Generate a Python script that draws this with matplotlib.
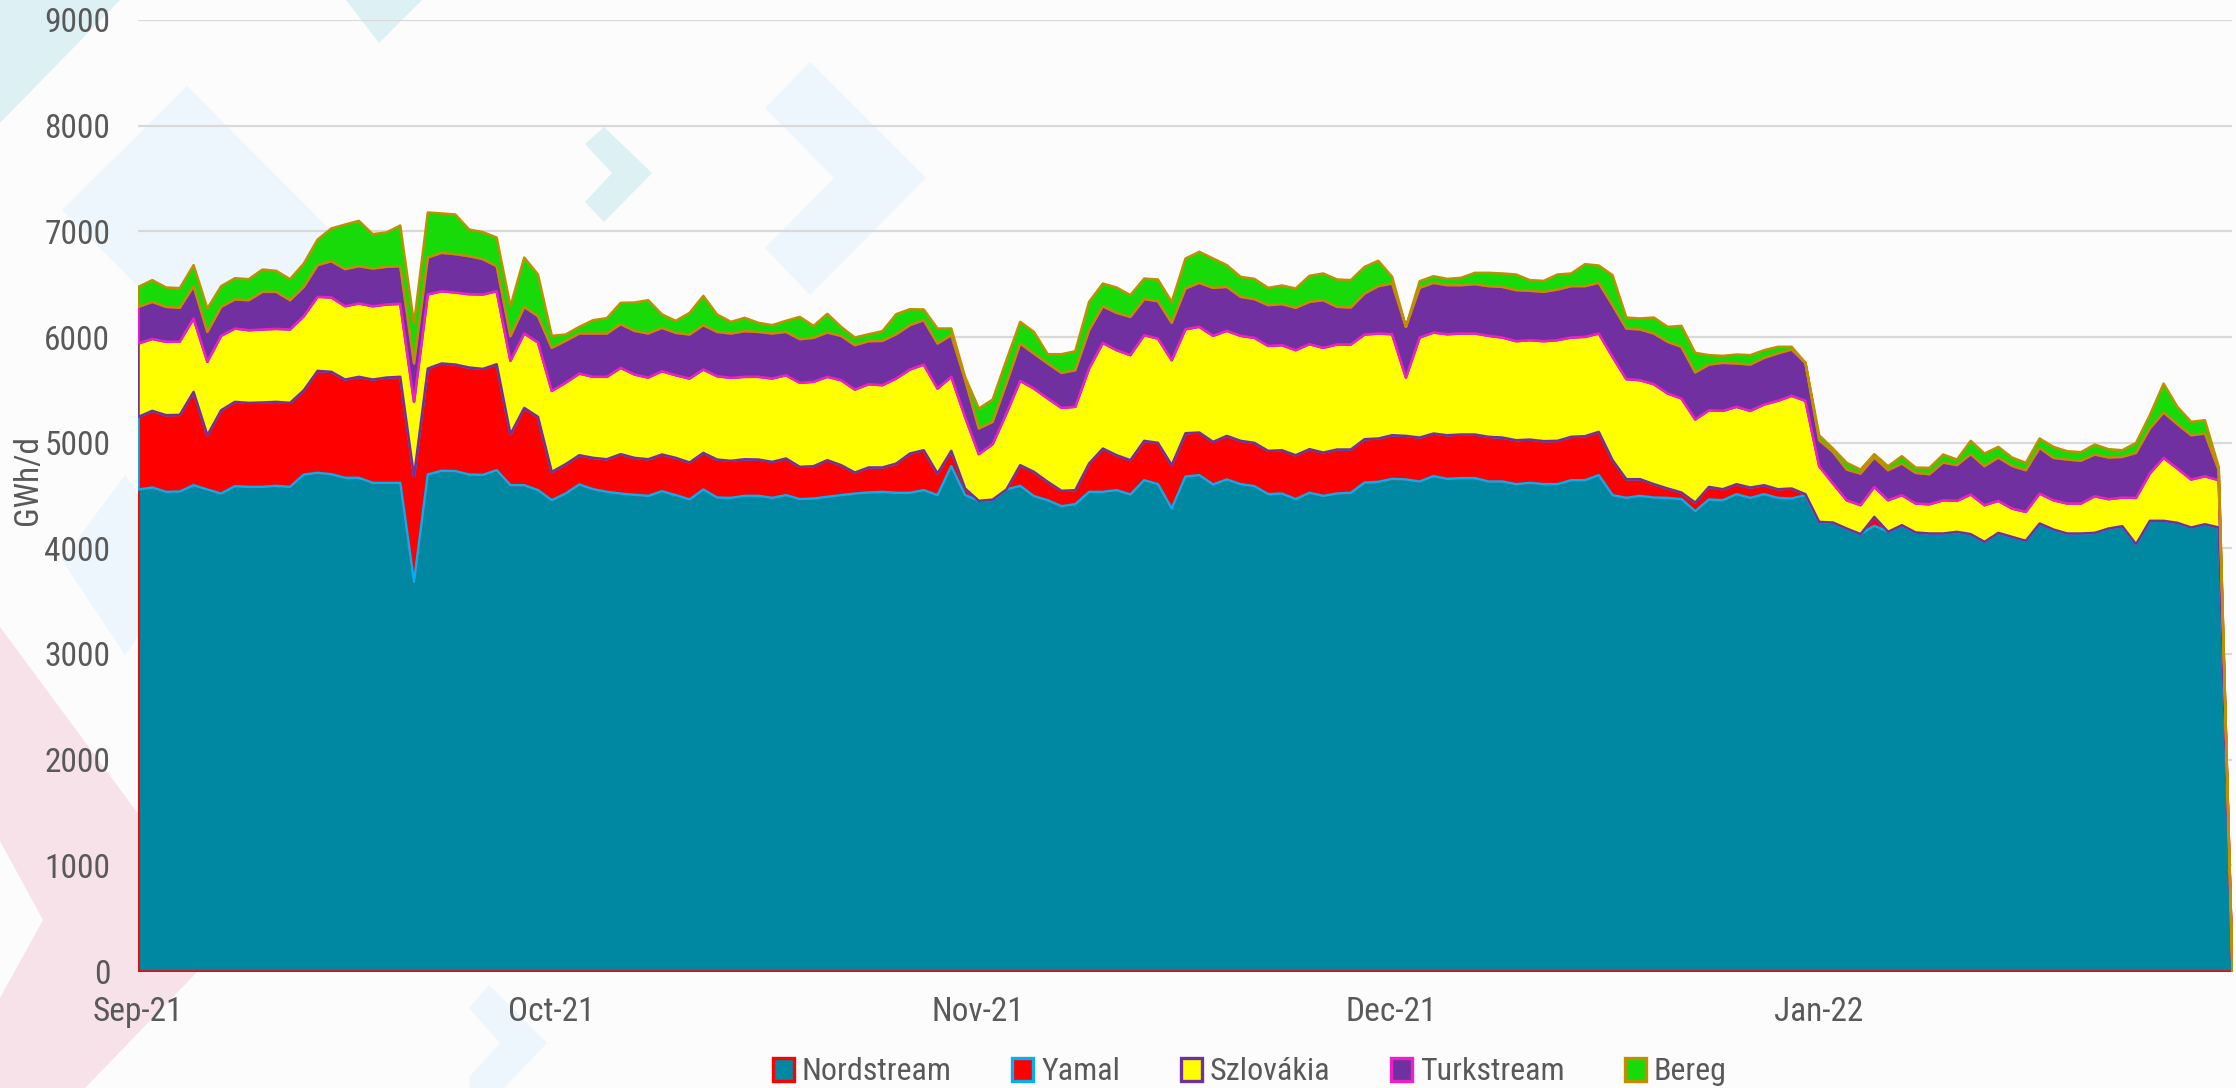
import numpy as np
import pandas as pd
import matplotlib
matplotlib.use("Agg")
import matplotlib.pyplot as plt
import matplotlib.dates as mdates
from matplotlib.patches import Polygon
from matplotlib import font_manager as fm

_names = {f.name for f in fm.fontManager.ttflist}
if 'Liberation Sans Narrow' in _names:
    FAMILY, FS, LFS = ['Liberation Sans Narrow', 'DejaVu Sans'], 12, 12
elif 'Roboto Condensed' in _names:
    FAMILY, FS, LFS = ['Roboto Condensed', 'DejaVu Sans'], 12, 11.5
else:
    FAMILY, FS, LFS = ['Liberation Sans', 'DejaVu Sans'], 10.5, 10.5
plt.rcParams['font.family'] = FAMILY

dates = pd.date_range('2021-09-01', '2022-01-31', freq='D')

nordstream = [
    4561, 4580, 4539, 4542, 4602, 4561, 4523, 4593, 4586, 4586,
    4596, 4586, 4703, 4719, 4706, 4672, 4672, 4624, 4624, 4624,
    3687, 4703, 4738, 4735, 4703, 4700, 4744, 4602, 4602, 4555,
    4460, 4523, 4609, 4564, 4539, 4523, 4511, 4501, 4545, 4508,
    4467, 4561, 4485, 4482, 4501, 4501, 4482, 4508, 4470, 4476,
    4492, 4508, 4523, 4533, 4539, 4530, 4530, 4555, 4508, 4782,
    4508, 4454, 4466, 4561, 4596, 4498, 4460, 4403, 4422, 4539,
    4539, 4555, 4514, 4649, 4612, 4381, 4684, 4697, 4609, 4656,
    4612, 4593, 4517, 4523, 4470, 4530, 4501, 4523, 4530, 4627,
    4634, 4662, 4656, 4637, 4688, 4662, 4669, 4669, 4637, 4637,
    4612, 4624, 4612, 4612, 4649, 4649, 4697, 4508, 4482, 4501,
    4485, 4482, 4470, 4356, 4467, 4460, 4517, 4482, 4517, 4482,
    4476, 4508, 4255, 4249, 4192, 4139, 4218, 4161, 4224, 4155,
    4145, 4145, 4161, 4139, 4066, 4151, 4113, 4076, 4240, 4183,
    4145, 4145, 4151, 4192, 4214, 4044, 4265, 4265, 4246, 4202,
    4233, 4202, 0]

yamal = [
    688, 726, 726, 726, 884, 514, 789, 798, 795, 799,
    795, 795, 798, 965, 969, 930, 956, 978, 997, 1004,
    1000, 1003, 1016, 1009, 1013, 1003, 1003, 483, 732, 694,
    268, 278, 277, 297, 309, 373, 350, 347, 348, 353,
    350, 347, 360, 351, 347, 344, 341, 347, 306, 306,
    347, 284, 199, 237, 231, 277, 372, 378, 205, 145,
    63, 0, 0, 0, 196, 230, 174, 146, 133, 268,
    410, 331, 325, 373, 391, 411, 410, 404, 403, 413,
    410, 410, 410, 410, 416, 413, 410, 417, 410, 411,
    410, 413, 413, 416, 403, 413, 413, 413, 423, 416,
    416, 410, 407, 410, 411, 417, 410, 331, 177, 158,
    127, 89, 63, 82, 119, 104, 95, 98, 85, 82,
    95, 9, 0, 0, 0, 0, 84, 0, 0, 0,
    0, 0, 0, 0, 0, 0, 0, 0, 0, 0,
    0, 0, 0, 0, 0, 0, 0, 0, 0, 0,
    0, 0, 0]

szlovakia = [
    694, 681, 694, 694, 694, 695, 704, 694, 688, 691,
    691, 695, 701, 701, 704, 694, 694, 694, 691, 691,
    704, 701, 684, 682, 694, 704, 691, 694, 704, 704,
    767, 770, 773, 767, 780, 817, 789, 773, 788, 782,
    795, 789, 789, 785, 780, 783, 789, 788, 795, 799,
    789, 804, 786, 788, 779, 805, 795, 811, 804, 701,
    678, 442, 524, 720, 798, 789, 789, 785, 789, 899,
    1000, 994, 994, 1000, 987, 993, 985, 1000, 1004, 994,
    994, 994, 994, 994, 994, 994, 991, 994, 994, 990,
    994, 956, 552, 947, 956, 956, 956, 956, 956, 947,
    937, 941, 946, 953, 940, 940, 931, 978, 947, 937,
    946, 899, 890, 786, 726, 742, 732, 726, 764, 837,
    877, 884, 527, 369, 268, 274, 284, 299, 284, 274,
    277, 315, 293, 375, 347, 303, 268, 274, 283, 277,
    284, 284, 347, 278, 271, 438, 448, 596, 514, 454,
    454, 448, 0]

turkstream = [
    347, 350, 331, 319, 306, 283, 274, 275, 284, 356,
    350, 277, 277, 300, 343, 351, 353, 357, 357, 356,
    363, 350, 363, 363, 360, 334, 237, 233, 252, 249,
    407, 397, 379, 410, 410, 413, 413, 417, 410, 401,
    416, 420, 419, 420, 432, 425, 426, 410, 413, 416,
    419, 420, 419, 407, 419, 419, 420, 420, 426, 394,
    351, 243, 212, 284, 353, 331, 331, 331, 346, 363,
    347, 353, 362, 341, 354, 354, 385, 416, 454, 416,
    369, 366, 385, 389, 401, 400, 451, 356, 350, 388,
    448, 480, 480, 470, 470, 464, 457, 467, 470, 479,
    483, 467, 467, 479, 486, 480, 479, 489, 479, 480,
    480, 489, 489, 445, 432, 454, 410, 438, 441, 448,
    438, 359, 246, 299, 290, 299, 278, 284, 299, 290,
    284, 357, 338, 382, 369, 410, 404, 394, 432, 401,
    416, 404, 395, 394, 385, 426, 426, 429, 420, 419,
    404, 95, 0]

bereg = [
    190, 206, 183, 186, 199, 221, 196, 201, 199, 211,
    199, 199, 221, 242, 310, 422, 429, 325, 325, 385,
    378, 426, 373, 375, 252, 256, 271, 284, 467, 394,
    114, 60, 63, 126, 145, 202, 268, 315, 127, 114,
    205, 277, 165, 110, 126, 86, 79, 105, 211, 113,
    177, 85, 73, 66, 92, 190, 151, 101, 142, 63,
    28, 189, 211, 220, 205, 205, 88, 177, 180, 268,
    215, 240, 206, 195, 205, 198, 284, 294, 278, 206,
    189, 192, 164, 176, 183, 247, 253, 259, 259, 253,
    240, 63, 0, 63, 63, 60, 70, 107, 126, 127,
    148, 101, 104, 142, 120, 208, 164, 284, 104, 104,
    151, 142, 198, 186, 89, 66, 85, 89, 73, 63,
    26, 0, 47, 32, 64, 38, 32, 38, 70, 50,
    60, 76, 53, 126, 120, 101, 79, 70, 89, 104,
    79, 82, 94, 79, 63, 95, 126, 274, 164, 127,
    126, 30, 0]

series_names = ['Nordstream', 'Yamal', 'Szlovákia', 'Turkstream', 'Bereg']
fill_colors = ['#0088A2', '#FF0000', '#FFFF00', '#7030A0', '#18DA08']
edge_colors = ['#FF0000', '#00B0F0', '#7030A0', '#F01EC8', '#BF8F00']

W, H = 2236, 1088
fig = plt.figure(figsize=(W / 200, H / 200), dpi=200, facecolor='#FCFCFC')


def deco(points, color):
    pts = [(x / W, 1 - y / H) for x, y in points]
    p = Polygon(pts, closed=True, transform=fig.transFigure, facecolor=color,
                edgecolor='none', zorder=-5)
    fig.patches.append(p)


CYAN, PALE, PINK = '#DDF0F4', '#EEF6FD', '#F6E2E8'
deco([(0, 0), (120, 0), (0, 123)], CYAN)
deco([(346, 0), (422, 0), (379, 43)], CYAN)
deco([(187, 86), (380, 280), (255, 404), (62, 210)], PALE)
deco([(62, 560), (125, 475), (190, 565), (125, 655)], PALE)
deco([(585, 144), (604, 127), (652, 173), (604, 222), (585, 202), (612, 173)], CYAN)
deco([(765, 108), (810, 62), (926, 178), (810, 295), (765, 248), (834, 178)], PALE)
deco([(0, 627), (230, 938), (85, 1088), (0, 1088), (0, 998), (43, 920), (0, 841)], PINK)
deco([(489, 985), (547, 1043), (504, 1088), (470, 1088), (469, 1077),
      (500, 1043), (469, 1008)], PALE)

ax = fig.add_axes([138 / W, 1 - 971 / H, (2232 - 138) / W, (971 - 20) / H])
ax.patch.set_visible(False)

polys = ax.stackplot(dates, nordstream, yamal, szlovakia, turkstream, bereg,
                     colors=fill_colors, labels=series_names, zorder=3)
for p, ec in zip(polys, edge_colors):
    p.set_edgecolor(ec)
    p.set_linewidth(0.9)

ax.set_ylim(0, 9000)
ax.set_xlim(dates[0], dates[-1])
ax.set_yticks(np.arange(0, 9001, 1000))
ax.yaxis.grid(True, color='#D9D9D9', linewidth=0.8, zorder=0)
ax.set_axisbelow(True)
for s in ax.spines.values():
    s.set_visible(False)

ax.xaxis.set_major_locator(mdates.MonthLocator())
ax.xaxis.set_major_formatter(mdates.DateFormatter('%b-%y'))
ax.tick_params(axis='both', length=0, labelsize=FS, labelcolor='#595959')
ax.tick_params(axis='x', pad=9)
ax.tick_params(axis='y', pad=10)

fig.text(28 / W, 1 - 480 / H, 'GWh/d', rotation=90, ha='center', va='center',
         fontsize=FS, color='#595959')

leg = fig.legend(handles=polys, labels=series_names, loc='center',
                 bbox_to_anchor=(0.559, 1 - 1072 / H), ncol=5, frameon=False,
                 fontsize=LFS, labelcolor='#595959', handlelength=0.65,
                 handleheight=0.75, handletextpad=0.25, columnspacing=1.9)
for h in leg.legend_handles:
    h.set_linewidth(1.2)

fig.savefig('out.png', dpi=200, facecolor=fig.get_facecolor())
